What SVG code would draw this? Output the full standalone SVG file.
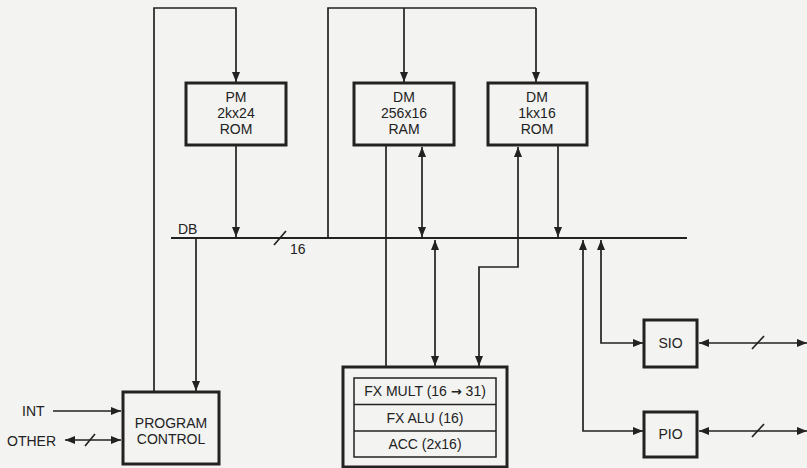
<svg xmlns="http://www.w3.org/2000/svg" width="807" height="468" viewBox="0 0 807 468">
<defs>
<marker id="ah" markerWidth="10" markerHeight="8" refX="10" refY="4" orient="auto-start-reverse" markerUnits="userSpaceOnUse">
<path d="M0,0 L10,4 L0,8 z" fill="#222"/>
</marker>
<style>
.box{fill:none;stroke:#222;stroke-width:3}
.inner{fill:none;stroke:#222;stroke-width:1.5}
.ln{fill:none;stroke:#222;stroke-width:1.7}
.bus{fill:none;stroke:#222;stroke-width:2}
.a{marker-end:url(#ah)}
.aa{marker-start:url(#ah);marker-end:url(#ah)}
text{font-family:"Liberation Sans",Arial,"DejaVu Sans",sans-serif;font-size:14px;fill:#222}
.c{text-anchor:middle}
.arr{font-family:"DejaVu Sans",sans-serif;font-weight:bold;font-size:13px}
</style>
</defs>
<rect width="807" height="468" fill="#f3f3f1"/>
<g id="connectors">
<line class="bus" x1="171" y1="238" x2="687" y2="238"/>
<line class="ln" x1="274" y1="245" x2="286" y2="231"/>
<polyline class="ln a" points="154,392 154,8 236,8 236,82"/>
<polyline class="ln" points="328,238 328,8 536,8"/>
<line class="ln a" x1="404" y1="8" x2="404" y2="82"/>
<line class="ln a" x1="536" y1="8" x2="536" y2="82"/>
<line class="ln a" x1="236" y1="146" x2="236" y2="237"/>
<line class="ln a" x1="196" y1="238" x2="196" y2="391"/>
<line class="ln" x1="386" y1="146" x2="386" y2="366"/>
<line class="ln aa" x1="422" y1="147" x2="422" y2="237"/>
<line class="ln a" x1="558" y1="146" x2="558" y2="237"/>
<polyline class="ln aa" points="518,147 518,267 479,267 479,366"/>
<line class="ln aa" x1="435" y1="240" x2="435" y2="366"/>
<polyline class="ln aa" points="601,240 601,343 643,343"/>
<polyline class="ln aa" points="583,240 583,431 643,431"/>
<line class="ln aa" x1="699" y1="343" x2="807" y2="343"/>
<line class="ln" x1="752" y1="349" x2="764" y2="336"/>
<line class="ln aa" x1="699" y1="431" x2="807" y2="431"/>
<line class="ln" x1="752" y1="437" x2="764" y2="424"/>
<line class="ln a" x1="53" y1="411" x2="121" y2="411"/>
<line class="ln aa" x1="65" y1="440" x2="121" y2="440"/>
<line class="ln" x1="85" y1="446" x2="95" y2="434"/>
</g>
<text x="178" y="234">DB</text>
<text x="290" y="254">16</text>
<g id="pm">
<rect class="box" x="186" y="83" width="100" height="62"/>
<text class="c" x="236" y="102">PM</text>
<text class="c" x="236" y="118">2kx24</text>
<text class="c" x="236" y="134">ROM</text>
</g>
<g id="dmram">
<rect class="box" x="354" y="83" width="100" height="62"/>
<text class="c" x="404" y="102">DM</text>
<text class="c" x="404" y="118">256x16</text>
<text class="c" x="404" y="134">RAM</text>
</g>
<g id="dmrom">
<rect class="box" x="488" y="83" width="99" height="62"/>
<text class="c" x="537" y="102">DM</text>
<text class="c" x="537" y="118">1kx16</text>
<text class="c" x="537" y="134">ROM</text>
</g>
<g id="pc">
<rect class="box" x="123" y="392" width="96" height="72"/>
<text class="c" x="171" y="428">PROGRAM</text>
<text class="c" x="171" y="444">CONTROL</text>
</g>
<g id="fx">
<rect class="box" x="343" y="367" width="164" height="100"/>
<rect class="inner" x="354" y="378" width="142" height="79"/>
<line class="inner" x1="354" y1="404.5" x2="496" y2="404.5"/>
<line class="inner" x1="354" y1="431" x2="496" y2="431"/>
<text class="c" x="425" y="396">FX MULT (16 <tspan class="arr">→</tspan> 31)</text>
<text class="c" x="425" y="423">FX ALU (16)</text>
<text class="c" x="425" y="449">ACC (2x16)</text>
</g>
<g id="sio">
<rect class="box" x="644" y="320" width="53" height="47"/>
<text class="c" x="670.5" y="348">SIO</text>
</g>
<g id="pio">
<rect class="box" x="644" y="412" width="53" height="45"/>
<text class="c" x="670.5" y="439">PIO</text>
</g>
<g id="int"><text x="22" y="416">INT</text></g>
<g id="other"><text x="7" y="446">OTHER</text></g>
</svg>
